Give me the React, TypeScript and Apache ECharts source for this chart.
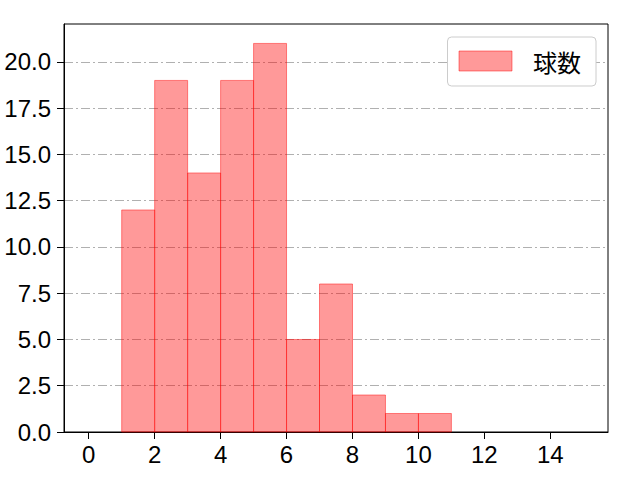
import React, { useEffect, useRef } from 'react';
import * as echarts from 'echarts';

// ヒストグラムのビン境界と度数
const binEdges = [1, 2, 3, 4, 5, 6, 7, 8, 9, 10, 11];
const counts = [12, 19, 14, 19, 21, 5, 8, 2, 1, 1];
const xTicks = [0, 2, 4, 6, 8, 10, 12, 14];
const seriesName = '球数';

const FONT = '"Liberation Sans", "Noto Sans CJK JP", sans-serif';

const App: React.FC = () => {
  const chartRef = useRef<HTMLDivElement>(null);

  useEffect(() => {
    document.body.style.margin = '0';
    if (!chartRef.current) return;
    const chart = echarts.init(chartRef.current, undefined, { renderer: 'svg' });

    const data = counts.map((c, i) => [binEdges[i], binEdges[i + 1], c]);

    chart.setOption({
      animation: false,
      backgroundColor: '#ffffff',
      textStyle: { fontFamily: FONT },
      grid: {
        left: 64,
        right: 32,
        top: 24,
        bottom: 48,
        show: true,
        borderColor: '#000000',
        borderWidth: 1,
        backgroundColor: 'transparent',
      },
      legend: {
        right: 44,
        top: 37,
        orient: 'vertical',
        padding: [12, 15, 13, 11],
        itemWidth: 53,
        itemHeight: 20,
        borderColor: '#cccccc',
        borderWidth: 1,
        borderRadius: 4,
        backgroundColor: '#ffffff',
        textStyle: { fontSize: 24, color: '#000', fontFamily: '"Noto Sans CJK JP", sans-serif', padding: [0, 0, 0, 16] },
        data: [
          {
            name: seriesName,
            icon: 'rect',
            itemStyle: { color: 'rgba(255,0,0,0.4)', borderColor: 'rgba(255,0,0,0.45)', borderWidth: 1 },
          },
        ],
      },
      xAxis: {
        type: 'value',
        min: -0.75,
        max: 15.75,
        axisLine: { show: true, onZero: false, lineStyle: { color: '#000', width: 1 } },
        axisTick: { show: true, length: 7, customValues: xTicks, lineStyle: { color: '#000' } },
        axisLabel: { customValues: xTicks, color: '#000', fontSize: 24, margin: 10, fontFamily: FONT },
        splitLine: { show: false },
      },
      yAxis: {
        type: 'value',
        min: 0,
        max: 22.05,
        interval: 2.5,
        axisLine: { show: true, onZero: false, lineStyle: { color: '#000', width: 1 } },
        axisTick: { show: true, length: 7, lineStyle: { color: '#000' } },
        axisLabel: {
          color: '#000',
          fontSize: 24,
          margin: 13,
          fontFamily: FONT,
          showMaxLabel: false,
          formatter: (v: number) => v.toFixed(1),
        },
        splitLine: {
          show: true,
          showMaxLine: false,
          showMinLine: false,
          lineStyle: { color: '#b0b0b0', width: 1, type: [9, 3, 2, 3] },
        },
      },
      series: [
        {
          name: seriesName,
          type: 'custom',
          data,
          encode: { x: [0, 1], y: 2 },
          renderItem: (_params: any, api: any) => {
            const p0 = api.coord([api.value(0), api.value(2)]);
            const p1 = api.coord([api.value(1), 0]);
            return {
              type: 'rect',
              shape: { x: p0[0], y: p0[1], width: p1[0] - p0[0], height: p1[1] - p0[1] },
              style: { fill: 'rgba(255,0,0,0.4)', stroke: 'rgba(255,0,0,0.45)', lineWidth: 1 },
            };
          },
        },
      ],
    });

    return () => chart.dispose();
  }, []);

  return <div ref={chartRef} style={{ width: 640, height: 480 }} />;
};

export default App;
